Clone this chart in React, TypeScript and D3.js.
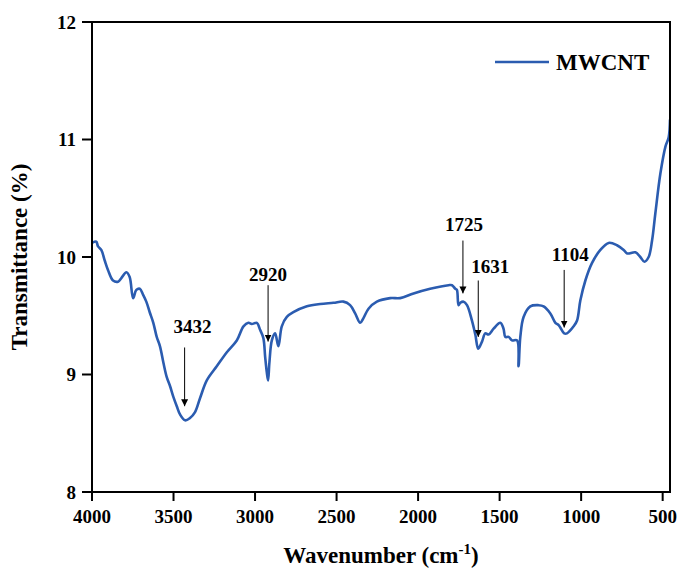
import React from "react";
import * as d3 from "d3";

// FTIR spectrum of MWCNT: wavenumber (cm-1) and transmittance (%)
const wavenumbers = [
  4000, 3974, 3963, 3943, 3922, 3902, 3871, 3840, 3820, 3789, 3769, 3748, 3728, 3707,
  3687, 3667, 3646, 3624, 3603, 3583, 3562, 3542, 3521, 3501, 3480, 3460, 3429, 3399,
  3368, 3337, 3296, 3235, 3173, 3112, 3071, 3041, 3020, 2989, 2969, 2949, 2938, 2928,
  2920, 2912, 2897, 2877, 2857, 2836, 2805, 2765, 2682, 2600, 2519, 2458, 2417, 2386,
  2355, 2335, 2304, 2253, 2171, 2110, 2028, 1926, 1813, 1792, 1772, 1762, 1752, 1741,
  1721, 1700, 1670, 1649, 1631, 1608, 1588, 1568, 1537, 1496, 1476, 1465, 1445, 1424,
  1393, 1384, 1373, 1353, 1312, 1261, 1230, 1189, 1158, 1138, 1128, 1104, 1087, 1046,
  1025, 1005, 974, 933, 882, 831, 780, 739, 718, 667, 637, 612, 586, 565, 545, 514,
  483, 463, 455,
];
const transmittance = [
  10.12, 10.13, 10.09, 10.06, 9.97, 9.89, 9.8, 9.79, 9.82, 9.87, 9.83, 9.65, 9.72, 9.73,
  9.68, 9.62, 9.53, 9.44, 9.32, 9.24, 9.1, 8.98, 8.9, 8.81, 8.73, 8.66, 8.61, 8.63,
  8.68, 8.8, 8.95, 9.07, 9.19, 9.29, 9.41, 9.44, 9.43, 9.44, 9.38, 9.31, 9.15, 9.02,
  8.95, 9.1, 9.29, 9.35, 9.24, 9.41, 9.49, 9.53, 9.58, 9.6, 9.61, 9.62, 9.59, 9.52,
  9.44, 9.48, 9.56, 9.62, 9.65, 9.65, 9.69, 9.73, 9.76, 9.76, 9.73, 9.72, 9.59, 9.61,
  9.62, 9.59, 9.46, 9.34, 9.22, 9.28, 9.35, 9.34, 9.39, 9.44, 9.39, 9.32, 9.32, 9.29,
  9.29, 9.07, 9.32, 9.49, 9.58, 9.59, 9.58, 9.52, 9.44, 9.42, 9.4, 9.35, 9.35, 9.41,
  9.46, 9.63, 9.8, 9.95, 10.06, 10.12, 10.1, 10.06, 10.03, 10.04, 10.0, 9.96, 10.0, 10.14,
  10.37, 10.71, 10.94, 11.02, 11.17,
];

const xTicks = [4000, 3500, 3000, 2500, 2000, 1500, 1000, 500];
const yTicks = [8, 9, 10, 11, 12];

// Peak annotations: labelled wavenumber, arrow top / tip and label baseline (in %T)
const peakLabels = [3432, 2920, 1725, 1631, 1104];
const arrowTop = [9.23, 9.76, 10.14, 9.8, 9.89];
const arrowTip = [8.73, 9.28, 9.69, 9.32, 9.4];
const labelAt = [9.35, 9.8, 10.22, 9.86, 9.97];
const labelShift = [8, 0, 1, 12, 6];

const seriesName = "MWCNT";

const W = 678;
const H = 568;
const margin = { left: 92, right: 8, top: 22, bottom: 76 };
const FONT = "'Liberation Serif', 'Times New Roman', Times, serif";
const LINE = "#2b5cb0";

export default function App() {
  const x = d3
    .scaleLinear()
    .domain([4000, 455])
    .range([margin.left, W - margin.right]);
  const y = d3
    .scaleLinear()
    .domain([8, 12])
    .range([H - margin.bottom, margin.top]);

  const pts: [number, number][] = wavenumbers.map((w, i) => [w, transmittance[i]]);
  const line = d3
    .line<[number, number]>()
    .x((d) => x(d[0]))
    .y((d) => y(d[1]))
    .curve(d3.curveCatmullRom.alpha(0.5));

  const x0 = x.range()[0];
  const x1 = x.range()[1];
  const y0 = y.range()[0];
  const y1 = y.range()[1];

  return (
    <svg
      width={W}
      height={H}
      style={{ position: "absolute", left: 0, top: 0, background: "#fff" }}
      fontFamily={FONT}
      fontWeight="bold"
    >
      <defs>
        <marker
          id="arrowHead"
          viewBox="0 0 10 10"
          refX="10"
          refY="5"
          markerWidth="7"
          markerHeight="11"
          markerUnits="userSpaceOnUse"
          orient="auto"
        >
          <path d="M0,0 L10,5 L0,10 Z" fill="#000" />
        </marker>
        <clipPath id="plotClip">
          <rect x={x0} y={y1} width={x1 - x0} height={y0 - y1} />
        </clipPath>
      </defs>

      {/* spectrum */}
      <path
        d={line(pts) || ""}
        fill="none"
        stroke={LINE}
        strokeWidth={2.6}
        strokeLinejoin="round"
        clipPath="url(#plotClip)"
      />

      {/* frame */}
      <rect
        x={x0}
        y={y1}
        width={x1 - x0}
        height={y0 - y1}
        fill="none"
        stroke="#000"
        strokeWidth={2}
      />

      {/* y axis */}
      {yTicks.map((t) => (
        <g key={"y" + t}>
          <line x1={x0 - 10} x2={x0} y1={y(t)} y2={y(t)} stroke="#000" strokeWidth={2} />
          <text x={x0 - 16} y={y(t)} dy="0.35em" textAnchor="end" fontSize={19}>
            {t}
          </text>
        </g>
      ))}

      {/* x axis */}
      {xTicks.map((t) => (
        <g key={"x" + t}>
          <line x1={x(t)} x2={x(t)} y1={y0} y2={y0 + 9} stroke="#000" strokeWidth={2} />
          <text x={x(t)} y={y0 + 31} textAnchor="middle" fontSize={19}>
            {t}
          </text>
        </g>
      ))}

      {/* axis titles */}
      <text x={(x0 + x1) / 2} y={563} textAnchor="middle" fontSize={23}>
        Wavenumber (cm
        <tspan fontSize={15} dy={-9}>
          -1
        </tspan>
        <tspan dy={9}>)</tspan>
      </text>
      <text
        transform={`translate(27,${(y0 + y1) / 2}) rotate(-90)`}
        textAnchor="middle"
        fontSize={23}
      >
        Transmittance (%)
      </text>

      {/* legend */}
      <line x1={495} x2={549} y1={62} y2={62} stroke={LINE} strokeWidth={2.6} />
      <text x={556} y={70} fontSize={23}>
        {seriesName}
      </text>

      {/* peak annotations */}
      {peakLabels.map((p, i) => (
        <g key={"p" + p}>
          <line
            x1={x(p)}
            x2={x(p)}
            y1={y(arrowTop[i])}
            y2={y(arrowTip[i])}
            stroke="#000"
            strokeWidth={1}
            markerEnd="url(#arrowHead)"
          />
          <text x={x(p) + labelShift[i]} y={y(labelAt[i])} textAnchor="middle" fontSize={19}>
            {p}
          </text>
        </g>
      ))}
    </svg>
  );
}
